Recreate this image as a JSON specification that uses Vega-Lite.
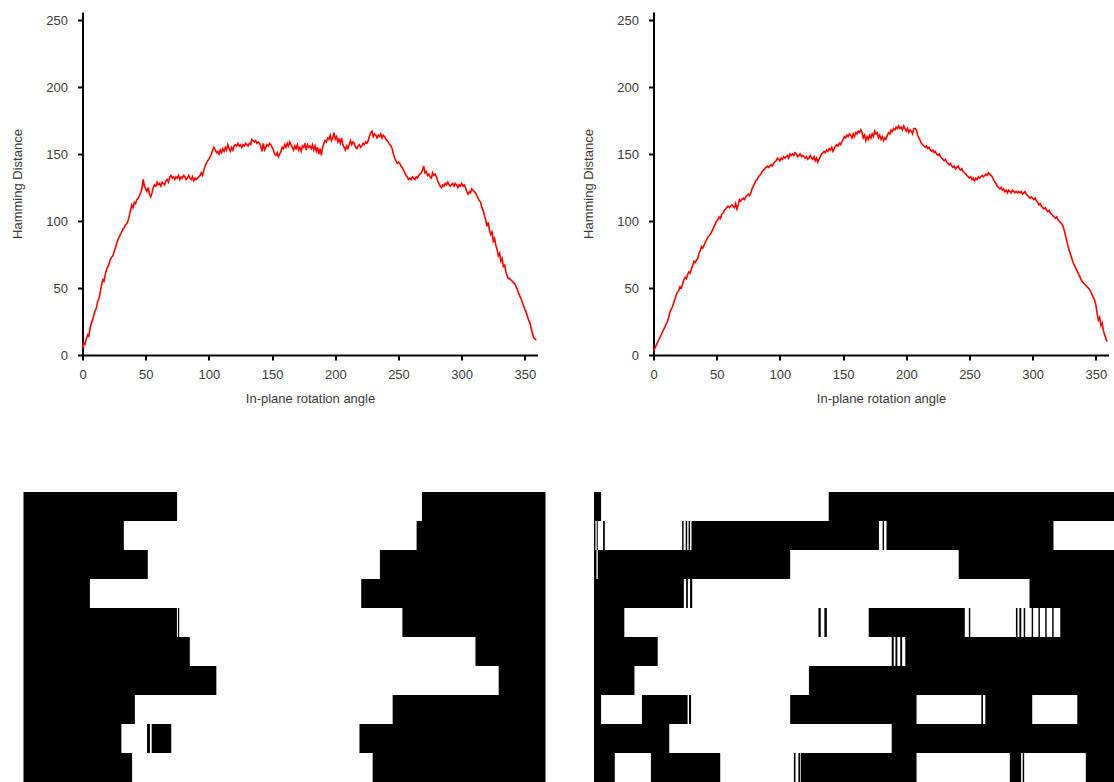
{
"$schema":"https://vega.github.io/schema/vega-lite/v6.json",
"padding":{"left":11.5,"top":12,"right":0,"bottom":0},
"background":"white",
"config":{"view":{"stroke":null},"font":"Liberation Sans",
"axis":{"domainColor":"black","domainWidth":2,"tickColor":"black","tickWidth":2,"tickSize":5,"grid":false,"labelColor":"#3a3a3a","labelFontSize":13,"labelFont":"Liberation Sans","titleColor":"#3a3a3a","titleFontSize":13,"titleFont":"Liberation Sans","titleFontWeight":"normal"},
"axisX":{"labelPadding":8,"titlePadding":11,"labelFlush":false},
"axisY":{"labelPadding":10,"titlePadding":21}},
"datasets":{
"left":[{"a":0,"h":5},{"a":1,"h":9},{"a":2,"h":8},{"a":3,"h":12},{"a":4,"h":15},{"a":5,"h":14},{"a":6,"h":20},{"a":7,"h":24},{"a":8,"h":26},{"a":9,"h":30},{"a":10,"h":33},
{"a":11,"h":35},{"a":12,"h":40},{"a":13,"h":42},{"a":14,"h":47},{"a":15,"h":52},{"a":16,"h":56},{"a":17,"h":55},{"a":18,"h":60},{"a":19,"h":64},{"a":20,"h":66},
{"a":21,"h":68},{"a":22,"h":71},{"a":23,"h":73},{"a":24,"h":74},{"a":25,"h":77},{"a":26,"h":80},{"a":27,"h":83},{"a":28,"h":86},{"a":29,"h":88},{"a":30,"h":90},
{"a":31,"h":92},{"a":32,"h":94},{"a":33,"h":95},{"a":34,"h":97},{"a":35,"h":98},{"a":36,"h":100},{"a":37,"h":104},{"a":38,"h":108},{"a":39,"h":112},{"a":40,"h":110},
{"a":41,"h":114},{"a":42,"h":113},{"a":43,"h":116},{"a":44,"h":117},{"a":45,"h":119},{"a":46,"h":121},{"a":47,"h":124},{"a":48,"h":131},{"a":49,"h":126},{"a":50,"h":124},
{"a":51,"h":122},{"a":52,"h":125},{"a":53,"h":120},{"a":54,"h":118},{"a":55,"h":121},{"a":56,"h":125},{"a":57,"h":127},{"a":58,"h":126},{"a":59,"h":129},{"a":60,"h":127},
{"a":61,"h":128},{"a":62,"h":126},{"a":63,"h":129},{"a":64,"h":128},{"a":65,"h":127},{"a":66,"h":130},{"a":67,"h":131},{"a":68,"h":129},{"a":69,"h":133},{"a":70,"h":134},
{"a":71,"h":132},{"a":72,"h":133},{"a":73,"h":131},{"a":74,"h":133},{"a":75,"h":132},{"a":76,"h":134},{"a":77,"h":131},{"a":78,"h":133},{"a":79,"h":132},{"a":80,"h":134},
{"a":81,"h":133},{"a":82,"h":131},{"a":83,"h":132},{"a":84,"h":134},{"a":85,"h":132},{"a":86,"h":131},{"a":87,"h":133},{"a":88,"h":130},{"a":89,"h":132},{"a":90,"h":131},
{"a":91,"h":132},{"a":92,"h":133},{"a":93,"h":134},{"a":94,"h":136},{"a":95,"h":134},{"a":96,"h":138},{"a":97,"h":141},{"a":98,"h":143},{"a":99,"h":145},{"a":100,"h":146},
{"a":101,"h":148},{"a":102,"h":150},{"a":103,"h":153},{"a":104,"h":155},{"a":105,"h":153},{"a":106,"h":151},{"a":107,"h":152},{"a":108,"h":150},{"a":109,"h":153},{"a":110,"h":151},
{"a":111,"h":154},{"a":112,"h":152},{"a":113,"h":155},{"a":114,"h":153},{"a":115,"h":157},{"a":116,"h":154},{"a":117,"h":152},{"a":118,"h":155},{"a":119,"h":153},{"a":120,"h":156},
{"a":121,"h":157},{"a":122,"h":156},{"a":123,"h":158},{"a":124,"h":156},{"a":125,"h":157},{"a":126,"h":155},{"a":127,"h":157},{"a":128,"h":156},{"a":129,"h":158},{"a":130,"h":157},
{"a":131,"h":156},{"a":132,"h":158},{"a":133,"h":157},{"a":134,"h":161},{"a":135,"h":160},{"a":136,"h":159},{"a":137,"h":160},{"a":138,"h":158},{"a":139,"h":159},{"a":140,"h":158},
{"a":141,"h":156},{"a":142,"h":152},{"a":143,"h":158},{"a":144,"h":153},{"a":145,"h":155},{"a":146,"h":157},{"a":147,"h":156},{"a":148,"h":158},{"a":149,"h":157},{"a":150,"h":155},
{"a":151,"h":153},{"a":152,"h":150},{"a":153,"h":149},{"a":154,"h":151},{"a":155,"h":148},{"a":156,"h":150},{"a":157,"h":152},{"a":158,"h":155},{"a":159,"h":154},{"a":160,"h":157},
{"a":161,"h":155},{"a":162,"h":158},{"a":163,"h":156},{"a":164,"h":159},{"a":165,"h":157},{"a":166,"h":155},{"a":167,"h":153},{"a":168,"h":156},{"a":169,"h":154},{"a":170,"h":157},
{"a":171,"h":153},{"a":172,"h":155},{"a":173,"h":152},{"a":174,"h":156},{"a":175,"h":155},{"a":176,"h":158},{"a":177,"h":153},{"a":178,"h":157},{"a":179,"h":155},{"a":180,"h":156},
{"a":181,"h":154},{"a":182,"h":157},{"a":183,"h":153},{"a":184,"h":156},{"a":185,"h":152},{"a":186,"h":155},{"a":187,"h":150},{"a":188,"h":154},{"a":189,"h":149},{"a":190,"h":155},
{"a":191,"h":158},{"a":192,"h":160},{"a":193,"h":159},{"a":194,"h":162},{"a":195,"h":161},{"a":196,"h":164},{"a":197,"h":160},{"a":198,"h":162},{"a":199,"h":166},{"a":200,"h":161},
{"a":201,"h":163},{"a":202,"h":159},{"a":203,"h":161},{"a":204,"h":158},{"a":205,"h":162},{"a":206,"h":157},{"a":207,"h":155},{"a":208,"h":153},{"a":209,"h":156},{"a":210,"h":154},
{"a":211,"h":157},{"a":212,"h":160},{"a":213,"h":157},{"a":214,"h":159},{"a":215,"h":158},{"a":216,"h":155},{"a":217,"h":154},{"a":218,"h":156},{"a":219,"h":157},{"a":220,"h":155},
{"a":221,"h":156},{"a":222,"h":158},{"a":223,"h":157},{"a":224,"h":159},{"a":225,"h":158},{"a":226,"h":160},{"a":227,"h":163},{"a":228,"h":166},{"a":229,"h":167},{"a":230,"h":163},
{"a":231,"h":165},{"a":232,"h":164},{"a":233,"h":162},{"a":234,"h":164},{"a":235,"h":163},{"a":236,"h":165},{"a":237,"h":162},{"a":238,"h":164},{"a":239,"h":163},{"a":240,"h":161},
{"a":241,"h":160},{"a":242,"h":159},{"a":243,"h":157},{"a":244,"h":156},{"a":245,"h":154},{"a":246,"h":150},{"a":247,"h":147},{"a":248,"h":145},{"a":249,"h":143},{"a":250,"h":144},
{"a":251,"h":143},{"a":252,"h":141},{"a":253,"h":140},{"a":254,"h":138},{"a":255,"h":136},{"a":256,"h":134},{"a":257,"h":133},{"a":258,"h":131},{"a":259,"h":132},{"a":260,"h":131},
{"a":261,"h":133},{"a":262,"h":132},{"a":263,"h":131},{"a":264,"h":133},{"a":265,"h":132},{"a":266,"h":134},{"a":267,"h":135},{"a":268,"h":136},{"a":269,"h":138},{"a":270,"h":141},
{"a":271,"h":136},{"a":272,"h":137},{"a":273,"h":134},{"a":274,"h":135},{"a":275,"h":133},{"a":276,"h":132},{"a":277,"h":136},{"a":278,"h":134},{"a":279,"h":135},{"a":280,"h":133},
{"a":281,"h":130},{"a":282,"h":128},{"a":283,"h":126},{"a":284,"h":125},{"a":285,"h":127},{"a":286,"h":126},{"a":287,"h":128},{"a":288,"h":127},{"a":289,"h":129},{"a":290,"h":127},
{"a":291,"h":126},{"a":292,"h":127},{"a":293,"h":128},{"a":294,"h":126},{"a":295,"h":128},{"a":296,"h":127},{"a":297,"h":125},{"a":298,"h":127},{"a":299,"h":126},{"a":300,"h":128},
{"a":301,"h":126},{"a":302,"h":127},{"a":303,"h":125},{"a":304,"h":122},{"a":305,"h":120},{"a":306,"h":122},{"a":307,"h":121},{"a":308,"h":124},{"a":309,"h":123},{"a":310,"h":122},
{"a":311,"h":121},{"a":312,"h":119},{"a":313,"h":117},{"a":314,"h":115},{"a":315,"h":114},{"a":316,"h":110},{"a":317,"h":108},{"a":318,"h":104},{"a":319,"h":101},{"a":320,"h":96},
{"a":321,"h":99},{"a":322,"h":93},{"a":323,"h":90},{"a":324,"h":92},{"a":325,"h":85},{"a":326,"h":87},{"a":327,"h":82},{"a":328,"h":79},{"a":329,"h":74},{"a":330,"h":76},
{"a":331,"h":70},{"a":332,"h":72},{"a":333,"h":66},{"a":334,"h":67},{"a":335,"h":62},{"a":336,"h":59},{"a":337,"h":57},{"a":338,"h":57},{"a":339,"h":56},{"a":340,"h":55},
{"a":341,"h":54},{"a":342,"h":53},{"a":343,"h":51},{"a":344,"h":49},{"a":345,"h":46},{"a":346,"h":44},{"a":347,"h":42},{"a":348,"h":39},{"a":349,"h":37},{"a":350,"h":34},
{"a":351,"h":32},{"a":352,"h":29},{"a":353,"h":26},{"a":354,"h":24},{"a":355,"h":20},{"a":356,"h":16},{"a":357,"h":13},{"a":358,"h":12},{"a":359,"h":11}],
"right":[{"a":0,"h":3},{"a":1,"h":5},{"a":2,"h":7},{"a":3,"h":9},{"a":4,"h":11},{"a":5,"h":13},{"a":6,"h":15},{"a":7,"h":17},{"a":8,"h":19},{"a":9,"h":21},{"a":10,"h":23},
{"a":11,"h":25},{"a":12,"h":28},{"a":13,"h":32},{"a":14,"h":34},{"a":15,"h":36},{"a":16,"h":39},{"a":17,"h":42},{"a":18,"h":45},{"a":19,"h":47},{"a":20,"h":48},
{"a":21,"h":51},{"a":22,"h":50},{"a":23,"h":53},{"a":24,"h":56},{"a":25,"h":58},{"a":26,"h":57},{"a":27,"h":60},{"a":28,"h":62},{"a":29,"h":61},{"a":30,"h":64},
{"a":31,"h":67},{"a":32,"h":70},{"a":33,"h":69},{"a":34,"h":71},{"a":35,"h":72},{"a":36,"h":76},{"a":37,"h":78},{"a":38,"h":81},{"a":39,"h":80},{"a":40,"h":82},
{"a":41,"h":84},{"a":42,"h":86},{"a":43,"h":88},{"a":44,"h":89},{"a":45,"h":90},{"a":46,"h":92},{"a":47,"h":94},{"a":48,"h":96},{"a":49,"h":98},{"a":50,"h":100},
{"a":51,"h":101},{"a":52,"h":103},{"a":53,"h":102},{"a":54,"h":105},{"a":55,"h":106},{"a":56,"h":108},{"a":57,"h":109},{"a":58,"h":110},{"a":59,"h":111},{"a":60,"h":110},
{"a":61,"h":111},{"a":62,"h":112},{"a":63,"h":111},{"a":64,"h":110},{"a":65,"h":113},{"a":66,"h":109},{"a":67,"h":112},{"a":68,"h":116},{"a":69,"h":115},{"a":70,"h":116},
{"a":71,"h":117},{"a":72,"h":116},{"a":73,"h":118},{"a":74,"h":119},{"a":75,"h":120},{"a":76,"h":119},{"a":77,"h":121},{"a":78,"h":124},{"a":79,"h":126},{"a":80,"h":128},
{"a":81,"h":130},{"a":82,"h":131},{"a":83,"h":133},{"a":84,"h":134},{"a":85,"h":135},{"a":86,"h":137},{"a":87,"h":138},{"a":88,"h":139},{"a":89,"h":140},{"a":90,"h":141},
{"a":91,"h":140},{"a":92,"h":141},{"a":93,"h":142},{"a":94,"h":141},{"a":95,"h":143},{"a":96,"h":144},{"a":97,"h":145},{"a":98,"h":147},{"a":99,"h":146},{"a":100,"h":145},
{"a":101,"h":147},{"a":102,"h":146},{"a":103,"h":148},{"a":104,"h":147},{"a":105,"h":148},{"a":106,"h":149},{"a":107,"h":147},{"a":108,"h":150},{"a":109,"h":149},{"a":110,"h":150},
{"a":111,"h":149},{"a":112,"h":151},{"a":113,"h":150},{"a":114,"h":148},{"a":115,"h":149},{"a":116,"h":150},{"a":117,"h":148},{"a":118,"h":149},{"a":119,"h":148},{"a":120,"h":147},
{"a":121,"h":148},{"a":122,"h":146},{"a":123,"h":147},{"a":124,"h":149},{"a":125,"h":147},{"a":126,"h":146},{"a":127,"h":148},{"a":128,"h":145},{"a":129,"h":147},{"a":130,"h":144},
{"a":131,"h":146},{"a":132,"h":148},{"a":133,"h":150},{"a":134,"h":151},{"a":135,"h":152},{"a":136,"h":151},{"a":137,"h":153},{"a":138,"h":152},{"a":139,"h":154},{"a":140,"h":153},
{"a":141,"h":155},{"a":142,"h":152},{"a":143,"h":154},{"a":144,"h":156},{"a":145,"h":157},{"a":146,"h":156},{"a":147,"h":158},{"a":148,"h":157},{"a":149,"h":159},{"a":150,"h":161},
{"a":151,"h":163},{"a":152,"h":162},{"a":153,"h":164},{"a":154,"h":163},{"a":155,"h":165},{"a":156,"h":164},{"a":157,"h":162},{"a":158,"h":165},{"a":159,"h":163},{"a":160,"h":166},
{"a":161,"h":165},{"a":162,"h":167},{"a":163,"h":166},{"a":164,"h":168},{"a":165,"h":166},{"a":166,"h":162},{"a":167,"h":164},{"a":168,"h":160},{"a":169,"h":163},{"a":170,"h":161},
{"a":171,"h":164},{"a":172,"h":162},{"a":173,"h":165},{"a":174,"h":163},{"a":175,"h":167},{"a":176,"h":165},{"a":177,"h":166},{"a":178,"h":162},{"a":179,"h":164},{"a":180,"h":161},
{"a":181,"h":163},{"a":182,"h":160},{"a":183,"h":162},{"a":184,"h":161},{"a":185,"h":164},{"a":186,"h":166},{"a":187,"h":165},{"a":188,"h":168},{"a":189,"h":167},{"a":190,"h":169},
{"a":191,"h":168},{"a":192,"h":170},{"a":193,"h":169},{"a":194,"h":171},{"a":195,"h":169},{"a":196,"h":170},{"a":197,"h":168},{"a":198,"h":171},{"a":199,"h":169},{"a":200,"h":167},
{"a":201,"h":169},{"a":202,"h":166},{"a":203,"h":168},{"a":204,"h":167},{"a":205,"h":165},{"a":206,"h":169},{"a":207,"h":169},{"a":208,"h":168},{"a":209,"h":164},{"a":210,"h":162},
{"a":211,"h":160},{"a":212,"h":158},{"a":213,"h":157},{"a":214,"h":156},{"a":215,"h":155},{"a":216,"h":156},{"a":217,"h":154},{"a":218,"h":155},{"a":219,"h":153},{"a":220,"h":152},
{"a":221,"h":153},{"a":222,"h":151},{"a":223,"h":152},{"a":224,"h":150},{"a":225,"h":149},{"a":226,"h":150},{"a":227,"h":148},{"a":228,"h":147},{"a":229,"h":146},{"a":230,"h":145},
{"a":231,"h":146},{"a":232,"h":144},{"a":233,"h":143},{"a":234,"h":142},{"a":235,"h":143},{"a":236,"h":141},{"a":237,"h":140},{"a":238,"h":141},{"a":239,"h":139},{"a":240,"h":140},
{"a":241,"h":141},{"a":242,"h":139},{"a":243,"h":138},{"a":244,"h":139},{"a":245,"h":137},{"a":246,"h":136},{"a":247,"h":135},{"a":248,"h":134},{"a":249,"h":133},{"a":250,"h":132},
{"a":251,"h":133},{"a":252,"h":131},{"a":253,"h":132},{"a":254,"h":130},{"a":255,"h":132},{"a":256,"h":131},{"a":257,"h":133},{"a":258,"h":132},{"a":259,"h":133},{"a":260,"h":134},
{"a":261,"h":133},{"a":262,"h":134},{"a":263,"h":135},{"a":264,"h":134},{"a":265,"h":136},{"a":266,"h":135},{"a":267,"h":134},{"a":268,"h":133},{"a":269,"h":131},{"a":270,"h":129},
{"a":271,"h":128},{"a":272,"h":126},{"a":273,"h":125},{"a":274,"h":124},{"a":275,"h":125},{"a":276,"h":123},{"a":277,"h":124},{"a":278,"h":122},{"a":279,"h":123},{"a":280,"h":121},
{"a":281,"h":123},{"a":282,"h":122},{"a":283,"h":121},{"a":284,"h":123},{"a":285,"h":122},{"a":286,"h":121},{"a":287,"h":122},{"a":288,"h":121},{"a":289,"h":122},{"a":290,"h":121},
{"a":291,"h":122},{"a":292,"h":120},{"a":293,"h":121},{"a":294,"h":122},{"a":295,"h":120},{"a":296,"h":119},{"a":297,"h":118},{"a":298,"h":117},{"a":299,"h":118},{"a":300,"h":117},
{"a":301,"h":116},{"a":302,"h":117},{"a":303,"h":115},{"a":304,"h":114},{"a":305,"h":112},{"a":306,"h":113},{"a":307,"h":111},{"a":308,"h":110},{"a":309,"h":109},{"a":310,"h":110},
{"a":311,"h":108},{"a":312,"h":107},{"a":313,"h":108},{"a":314,"h":106},{"a":315,"h":105},{"a":316,"h":104},{"a":317,"h":103},{"a":318,"h":102},{"a":319,"h":103},{"a":320,"h":101},
{"a":321,"h":100},{"a":322,"h":99},{"a":323,"h":98},{"a":324,"h":96},{"a":325,"h":93},{"a":326,"h":89},{"a":327,"h":85},{"a":328,"h":81},{"a":329,"h":78},{"a":330,"h":75},
{"a":331,"h":72},{"a":332,"h":69},{"a":333,"h":67},{"a":334,"h":65},{"a":335,"h":63},{"a":336,"h":61},{"a":337,"h":59},{"a":338,"h":57},{"a":339,"h":55},{"a":340,"h":54},
{"a":341,"h":53},{"a":342,"h":52},{"a":343,"h":51},{"a":344,"h":50},{"a":345,"h":49},{"a":346,"h":47},{"a":347,"h":45},{"a":348,"h":43},{"a":349,"h":41},{"a":350,"h":37},
{"a":351,"h":31},{"a":352,"h":26},{"a":353,"h":28},{"a":354,"h":22},{"a":355,"h":24},{"a":356,"h":18},{"a":357,"h":15},{"a":358,"h":12},{"a":359,"h":10}],
"hl":[{"r":0,"x0":0,"x1":105.9},{"r":0,"x0":274.8,"x1":360},
{"r":1,"x0":0,"x1":69.2},{"r":1,"x0":271.1,"x1":360},
{"r":2,"x0":0,"x1":85.7},{"r":2,"x0":245.8,"x1":360},
{"r":3,"x0":0,"x1":45.8},{"r":3,"x0":232.9,"x1":360},
{"r":4,"x0":0,"x1":105.8},{"r":4,"x0":106.5,"x1":107.4},{"r":4,"x0":261.3,"x1":360},
{"r":5,"x0":0,"x1":114.7},{"r":5,"x0":311.7,"x1":360},
{"r":6,"x0":0,"x1":133},{"r":6,"x0":327.7,"x1":360},
{"r":7,"x0":0,"x1":76.8},{"r":7,"x0":254.6,"x1":360},
{"r":8,"x0":0,"x1":67.5},{"r":8,"x0":85.2,"x1":87.2},{"r":8,"x0":88.4,"x1":101.9},{"r":8,"x0":231.7,"x1":360},
{"r":9,"x0":0,"x1":74.9},{"r":9,"x0":240.8,"x1":360}],
"hr":[{"r":0,"x0":0,"x1":4.9},{"r":0,"x0":162.5,"x1":360},
{"r":1,"x0":0,"x1":1},{"r":1,"x0":1.9,"x1":2.6},{"r":1,"x0":6.3,"x1":7.5},{"r":1,"x0":61,"x1":62},{"r":1,"x0":63.5,"x1":64.5},{"r":1,"x0":65.5,"x1":66.5},{"r":1,"x0":67.5,"x1":197.3},{"r":1,"x0":199.8,"x1":200.8},{"r":1,"x0":202.5,"x1":318.1},
{"r":2,"x0":0,"x1":1.7},{"r":2,"x0":2.6,"x1":135.8},{"r":2,"x0":252.5,"x1":360},
{"r":3,"x0":0,"x1":62.2},{"r":3,"x0":63.8,"x1":65},{"r":3,"x0":66.5,"x1":68},{"r":3,"x0":301.5,"x1":360},
{"r":4,"x0":0,"x1":21},{"r":4,"x0":155.4,"x1":157},{"r":4,"x0":159.5,"x1":161.2},{"r":4,"x0":190.2,"x1":256.7},{"r":4,"x0":259.5,"x1":260.5},{"r":4,"x0":292.1,"x1":293.2},{"r":4,"x0":294.5,"x1":295.8},{"r":4,"x0":297.5,"x1":298.5},{"r":4,"x0":303,"x1":304},{"r":4,"x0":307.7,"x1":308.7},{"r":4,"x0":312.4,"x1":313.4},{"r":4,"x0":317.2,"x1":318.2},{"r":4,"x0":322.8,"x1":360},
{"r":5,"x0":0,"x1":44.1},{"r":5,"x0":206.1,"x1":207.5},{"r":5,"x0":208.7,"x1":210},{"r":5,"x0":212,"x1":213.3},{"r":5,"x0":215.5,"x1":360},
{"r":6,"x0":0,"x1":28},{"r":6,"x0":148.8,"x1":360},
{"r":7,"x0":0,"x1":4.9},{"r":7,"x0":33.2,"x1":64.8},{"r":7,"x0":65.8,"x1":67.2},{"r":7,"x0":135.8,"x1":223.3},{"r":7,"x0":268.2,"x1":269.3},{"r":7,"x0":270.9,"x1":303.4},{"r":7,"x0":334.6,"x1":360},
{"r":8,"x0":0,"x1":52.1},{"r":8,"x0":206.1,"x1":360},
{"r":9,"x0":0,"x1":14.4},{"r":9,"x0":39.4,"x1":87.4},{"r":9,"x0":138.4,"x1":139.5},{"r":9,"x0":141.5,"x1":142.6},{"r":9,"x0":143.1,"x1":223.3},{"r":9,"x0":287.9,"x1":295.7},{"r":9,"x0":296.8,"x1":297.8},{"r":9,"x0":340.5,"x1":360}]
},
"spacing":87,
"vconcat":[
{"spacing":43,"hconcat":[
{"width":455,"height":343,"data":{"name":"left"},"mark":{"type":"line","color":"#f00","strokeWidth":1.6},
"encoding":{"x":{"field":"a","type":"quantitative","scale":{"domain":[0,360],"nice":false},"axis":{"values":[0,50,100,150,200,250,300,350],"title":"In-plane rotation angle"}},
"y":{"field":"h","type":"quantitative","scale":{"domain":[0,256],"nice":false},"axis":{"values":[0,50,100,150,200,250],"title":"Hamming Distance"}}}},
{"width":455,"height":343,"data":{"name":"right"},"mark":{"type":"line","color":"#f00","strokeWidth":1.6},
"encoding":{"x":{"field":"a","type":"quantitative","scale":{"domain":[0,360],"nice":false},"axis":{"values":[0,50,100,150,200,250,300,350],"title":"In-plane rotation angle"}},
"y":{"field":"h","type":"quantitative","scale":{"domain":[0,256],"nice":false},"axis":{"values":[0,50,100,150,200,250],"title":"Hamming Distance"}}}}
]},
{"spacing":47.5,"hconcat":[
{"width":463,"height":290,"data":{"name":"hl"},"mark":{"type":"rect","color":"black","strokeWidth":0},
"encoding":{"x":{"field":"x0","type":"quantitative","scale":{"domain":[40.69,360],"nice":false,"zero":false},"axis":null},"x2":{"field":"x1"},
"y":{"field":"r","type":"ordinal","scale":{"paddingInner":0,"paddingOuter":0},"axis":null}}},
{"width":461,"height":290,"data":{"name":"hr"},"mark":{"type":"rect","color":"black","strokeWidth":0},
"encoding":{"x":{"field":"x0","type":"quantitative","scale":{"domain":[40.85,360],"nice":false,"zero":false},"axis":null},"x2":{"field":"x1"},
"y":{"field":"r","type":"ordinal","scale":{"paddingInner":0,"paddingOuter":0},"axis":null}}}
]}
]
}
